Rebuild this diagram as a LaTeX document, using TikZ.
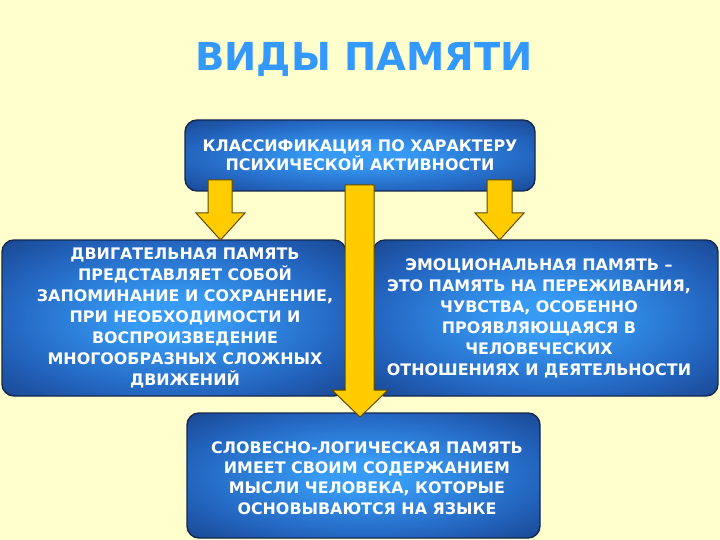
\documentclass[tikz,border=0pt]{standalone}
\usepackage{fontspec}
\setmainfont{DejaVu Sans}
\definecolor{bgyellow}{RGB}{255,255,206}
\definecolor{titleblue}{RGB}{51,153,255}
\definecolor{boxlight}{RGB}{55,155,245}
\definecolor{boxdark}{RGB}{35,100,190}
\definecolor{boxdeep}{RGB}{25,70,145}
\definecolor{boxline}{RGB}{20,40,80}
\definecolor{arrowfill}{RGB}{255,204,0}
\definecolor{arrowline}{RGB}{95,75,0}
\pgfdeclareradialshading{boxshade}{\pgfpoint{0bp}{0bp}}{color(0bp)=(boxlight); color(6bp)=(boxlight); color(25bp)=(boxdark); color(36bp)=(boxdeep); color(50bp)=(boxdeep)}
\tikzset{
  box/.style={draw=boxline, line width=1.4pt, rounded corners=12pt, shading=boxshade, rectangle, inner sep=0pt},
  boxtext/.style={text=white, font=\bfseries\fontsize{15.9}{21}\selectfont, align=center, inner sep=0pt},
  blockarrow/.style={fill=arrowfill, draw=arrowline, line width=1pt, line join=miter},
}
\begin{document}
\begin{tikzpicture}[x=1pt,y=-1pt]
\fill[bgyellow] (0,0) rectangle (720,540);
\useasboundingbox (0,0) rectangle (720,540);
% title
\node[text=titleblue, font=\bfseries\fontsize{38.5}{44}\selectfont, inner sep=0pt] (title) at (364,59) {ВИДЫ ПАМЯТИ};
% boxes
\node[box, minimum width=350pt, minimum height=71pt] (top) at (360,155.5) {};
\node[box, minimum width=344pt, minimum height=156pt] (left) at (174,318) {};
\node[box, minimum width=345pt, minimum height=156pt] (right) at (545.5,318) {};
\node[box, minimum width=353pt, minimum height=125pt] (bottom) at (363.5,475.5) {};
% arrows
\draw[blockarrow] (208,180) -- (232,180) -- (232,213) -- (245,213) -- (220.5,240) -- (196,213) -- (208,213) -- cycle;
\draw[blockarrow] (487,180) -- (512,180) -- (512,213) -- (524,213) -- (499.5,240) -- (475,213) -- (487,213) -- cycle;
\draw[blockarrow] (345,185) -- (374,185) -- (374,390) -- (388,390) -- (360,417) -- (332,390) -- (345,390) -- cycle;
% texts
\node[boxtext, font=\bfseries\fontsize{15.9}{19}\selectfont] (toptext) at (360,155.5) {КЛАССИФИКАЦИЯ ПО ХАРАКТЕРУ\\ПСИХИЧЕСКОЙ АКТИВНОСТИ};
\node[boxtext] (lefttext) at (185,318) {ДВИГАТЕЛЬНАЯ ПАМЯТЬ\\ПРЕДСТАВЛЯЕТ СОБОЙ\\ЗАПОМИНАНИЕ И СОХРАНЕНИЕ,\\ПРИ НЕОБХОДИМОСТИ И\\ВОСПРОИЗВЕДЕНИЕ\\МНОГООБРАЗНЫХ СЛОЖНЫХ\\ДВИЖЕНИЙ};
\node[boxtext] (righttext) at (539,318) {ЭМОЦИОНАЛЬНАЯ ПАМЯТЬ –\\ЭТО ПАМЯТЬ НА ПЕРЕЖИВАНИЯ,\\ЧУВСТВА, ОСОБЕННО\\ПРОЯВЛЯЮЩАЯСЯ В\\ЧЕЛОВЕЧЕСКИХ\\ОТНОШЕНИЯХ И ДЕЯТЕЛЬНОСТИ};
\node[boxtext, font=\bfseries\fontsize{15.9}{20.3}\selectfont] (bottomtext) at (367,478) {СЛОВЕСНО-ЛОГИЧЕСКАЯ ПАМЯТЬ\\ИМЕЕТ СВОИМ СОДЕРЖАНИЕМ\\МЫСЛИ ЧЕЛОВЕКА, КОТОРЫЕ\\ОСНОВЫВАЮТСЯ НА ЯЗЫКЕ};
\end{tikzpicture}
\end{document}
